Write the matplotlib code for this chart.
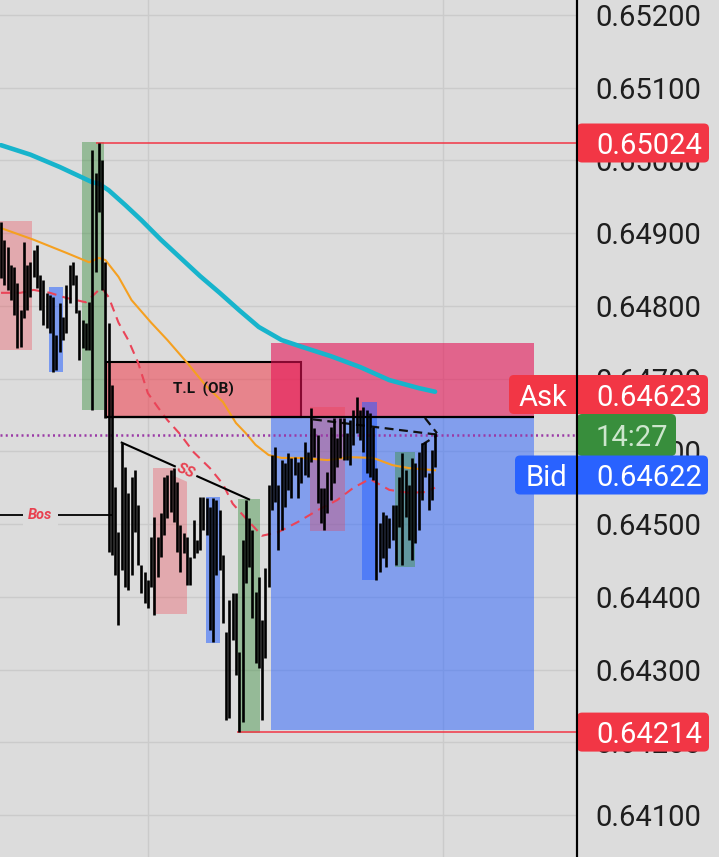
import numpy as np
import matplotlib.pyplot as plt
import matplotlib.patches as patches

plt.rcParams['font.family'] = ['Roboto', 'DejaVu Sans']

# bar highs / lows in pipettes (price * 1e5), one entry per bar
highs = [64915, 64891, 64881, 64856, 64853, 64831, 64794, 64888, 64856, 64860,
         64877, 64884, 64842, 64836, 64818, 64815, 64812, 64760, 64804, 64785,
         64829, 64856, 64860, 64842, 64794, 64781, 64776, 64805, 65014, 64983,
         65024, 65001, 64860, 64776, 64691, 64551, 64489, 64612, 64579, 64543,
         64565, 64574, 64526, 64444, 64434, 64423, 64482, 64510, 64482, 64515,
         64565, 64568, 64574, 64577, 64558, 64499, 64488, 64482, 64455, 64506,
         64478, 64537, 64537, 64536, 64524, 64536, 64533, 64519, 64458, 64352,
         64396, 64405, 64405, 64324, 64478, 64533, 64508, 64492, 64407, 64427,
         64368, 64440, 64554, 64595, 64606, 64554, 64588, 64584, 64598, 64591,
         64592, 64585, 64592, 64613, 64599, 64660, 64632, 64623, 64550, 64550,
         64572, 64634, 64646, 64618, 64646, 64646, 64625, 64643, 64657, 64675,
         64657, 64661, 64657, 64653, 64634, 64577, 64502, 64517, 64513, 64508,
         64526, 64526, 64565, 64598, 64574, 64554, 64591, 64584, 64599, 64612,
         64613, 64570, 64602, 64625]
lows = [64838, 64829, 64822, 64808, 64787, 64742, 64743, 64783, 64794, 64812,
        64840, 64825, 64794, 64774, 64770, 64763, 64709, 64712, 64737, 64753,
        64763, 64804, 64829, 64790, 64726, 64742, 64739, 64739, 64657, 64847,
        64929, 64822, 64646, 64462, 64458, 64430, 64361, 64437, 64414, 64409,
        64430, 64489, 64444, 64405, 64392, 64385, 64414, 64375, 64427, 64455,
        64485, 64508, 64517, 64503, 64462, 64434, 64460, 64416, 64416, 64453,
        64460, 64464, 64492, 64485, 64354, 64338, 64430, 64437, 64364, 64231,
        64233, 64341, 64293, 64214, 64228, 64419, 64441, 64371, 64309, 64302,
        64231, 64316, 64414, 64519, 64530, 64464, 64492, 64524, 64547, 64536,
        64568, 64536, 64557, 64568, 64565, 64585, 64592, 64529, 64502, 64492,
        64515, 64533, 64557, 64579, 64591, 64588, 64588, 64581, 64609, 64625,
        64616, 64599, 64570, 64565, 64561, 64423, 64434, 64453, 64441, 64467,
        64478, 64444, 64496, 64444, 64510, 64478, 64451, 64474, 64492, 64533,
        64565, 64519, 64533, 64579]

# moving averages sampled at bar indices
slow_idx = [0, 9, 18, 28, 30, 33, 38, 43, 49, 55, 61, 67, 73, 79, 86, 92, 101,
            110, 119, 128, 133]
slow_val = [65021, 65008, 64991, 64970, 64968, 64959, 64939, 64918, 64891, 64866,
            64841, 64818, 64794, 64771, 64753, 64744, 64731, 64716, 64698, 64687,
            64682]
mid_idx = [0, 10, 20, 27, 30, 32, 36, 40, 46, 51, 57, 63, 68, 72, 75, 78, 82, 86,
           92, 100, 107, 114, 120, 125, 133]
mid_val = [64907, 64891, 64873, 64860, 64866, 64863, 64840, 64808, 64777, 64753,
           64722, 64689, 64668, 64639, 64625, 64609, 64595, 64591, 64591, 64588,
           64592, 64591, 64581, 64577, 64574]
fast_idx = [0, 6, 10, 15, 20, 26, 30, 31, 33, 36, 39, 42, 45, 48, 51, 55, 59, 64,
            68, 71, 75, 80, 85, 91, 97, 103, 108, 113, 119, 125, 130, 133]
fast_val = [64818, 64818, 64822, 64818, 64811, 64805, 64822, 64824, 64812, 64777,
            64753, 64722, 64680, 64661, 64643, 64623, 64599, 64577, 64555, 64528,
            64508, 64484, 64489, 64503, 64519, 64533, 64550, 64562, 64547, 64543,
            64544, 64550]

# supply / demand zones: bar range, price range, kind
zone_x0 = [-0.3, 14.7, 24.8, 46.6, 62.8, 72.6, 94.7, 110.6, 120.7]
zone_x1 = [9.5, 19.0, 31.6, 57.0, 67.1, 79.4, 105.4, 115.2, 126.9]
zone_lo = [64739, 64709, 64657, 64376, 64336, 64213, 64490, 64423, 64441]
zone_hi = [64917, 64826, 65025, 64577, 64537, 64534, 64661, 64668, 64599]
zone_kind = ['sell', 'buy', 'bull', 'sell', 'buy', 'bull', 'sell', 'buy', 'bull']

ob_x = (32.2, 91.9)
ob_lo, ob_hi = 64647, 64723
trade_x = (82.7, 163.4)
entry, stop, target = 64647, 64749, 64217
bos_level, bos_x = 64512, (-0.3, 34.3)
ss_line = ((37, 64612), (76, 64534))
proj = [((95.6, 64644), (133.7, 64623)), ((129.9, 64646), (133.6, 64625)),
        ((129.0, 64609), (133.6, 64622))]

hi_bar, lo_bar = 30, 73
ask, bid = 0.64623, 0.64622
countdown = '14:27'

P = 1e5
bg = '#dcdcdc'
zone_style = {'sell': ('#f23645', 0.30), 'buy': ('#2962ff', 0.55), 'bull': ('#388e3c', 0.43)}

fig = plt.figure(figsize=(7.19, 8.57), dpi=100, facecolor=bg)
ax = fig.add_axes([0, 0, 577 / 719, 1])
ax.set_facecolor(bg)
ax.set_xlim(-0.31, 176.5)
ax.set_ylim(0.6404225, 0.6522063)

# grid
ax.set_yticks(np.arange(0.641, 0.6525, 0.001))
ax.set_yticklabels(['%.5f' % v for v in np.arange(0.641, 0.6525, 0.001)])
ax.set_xticks([45.05, 135.5])
ax.set_xticklabels([])
ax.grid(True, color='#cbcbcb', lw=1)
ax.set_axisbelow(True)
ax.yaxis.tick_right()
ax.tick_params(axis='y', length=0, pad=13, labelsize=21, labelcolor='#1e1e1e')
ax.tick_params(axis='x', length=0)
for s in ['left', 'top', 'bottom']:
    ax.spines[s].set_visible(False)
ax.spines['right'].set_color('black')
ax.spines['right'].set_linewidth(1.5)

# order block
ax.add_patch(patches.Rectangle((ob_x[0], ob_lo / P), ob_x[1] - ob_x[0], (ob_hi - ob_lo) / P,
                               fc='#f23645', alpha=0.53, lw=0, zorder=1))
ax.add_patch(patches.Rectangle((ob_x[0], ob_lo / P), ob_x[1] - ob_x[0], (ob_hi - ob_lo) / P,
                               fill=False, ec='black', lw=1.5, zorder=1.2))
ax.text(sum(ob_x) / 2, (ob_lo + ob_hi) / 2 / P, 'T.L  (OB)', ha='center', va='center',
        fontsize=11, fontweight='bold', color='#111111', zorder=5)

# position tool
ax.add_patch(patches.Rectangle((trade_x[0], entry / P), trade_x[1] - trade_x[0], (stop - entry) / P,
                               fc='#e61154', alpha=0.59, lw=0, zorder=2))
ax.add_patch(patches.Rectangle((trade_x[0], target / P), trade_x[1] - trade_x[0], (entry - target) / P,
                               fc='#2962ff', alpha=0.5, lw=0, zorder=2))

for x0, x1, lo, hi, k in zip(zone_x0, zone_x1, zone_lo, zone_hi, zone_kind):
    c, a = zone_style[k]
    ax.add_patch(patches.Rectangle((x0, lo / P), x1 - x0, (hi - lo) / P, fc=c, alpha=a, lw=0, zorder=2.5))

ax.hlines(entry / P, ob_x[0], trade_x[1], color='black', lw=1.6, zorder=3.5)

# moving averages
ax.plot(slow_idx, np.array(slow_val) / P, color='#17b4cc', lw=3.3, zorder=3,
        solid_capstyle='round', solid_joinstyle='round')
ax.plot(mid_idx, np.array(mid_val) / P, color='#f5a020', lw=1.5, zorder=3)
ax.plot(fast_idx, np.array(fast_val) / P, color='#ea4458', lw=1.5, ls=(0, (4.5, 3)), zorder=3)

# current price, levels
ax.axhline((ask + bid) / 2, color='#9a3aa6', lw=1.8, ls=(0, (0.8, 1.3)), zorder=3.2)
H = np.array(highs) / P
L = np.array(lows) / P
xr = ax.get_xlim()[1]
ax.hlines(H[hi_bar], hi_bar - 0.8, xr, color='#f23645', lw=1.1, zorder=3)
ax.hlines(L[lo_bar], lo_bar - 0.8, xr, color='#f23645', lw=1.1, zorder=3)

# structure drawings
ax.hlines(bos_level / P, bos_x[0], bos_x[1], color='black', lw=1.3, zorder=3.5)
ax.text(12, bos_level / P, 'Bos', ha='center', va='center', fontsize=10.5, fontweight='bold',
        style='italic', color='#e8404f', zorder=5,
        bbox=dict(fc=bg, ec='none', pad=4))
(sx0, sy0), (sx1, sy1) = ss_line
ax.plot([sx0, sx1], [sy0 / P, sy1 / P], color='black', lw=1.5, zorder=3.5)
ax.text(56.7, 64572.6 / P, 'SS', ha='center', va='center', fontsize=11, fontweight='bold',
        style='italic', color='#e8404f', rotation=-24, zorder=3.6,
        bbox=dict(fc=bg, ec='none', pad=1.5))
for (a0, b0), (a1, b1) in proj:
    ax.plot([a0, a1], [b0 / P, b1 / P], color='#111111', lw=1.6, ls=(0, (4, 2.5)), zorder=3.6)

# bars
ax.vlines(np.arange(len(H)), L, H, color='black', lw=1.9, zorder=4)

# price scale tags
ov = fig.add_axes([0, 0, 1, 1])
ov.set_xlim(0, 719)
ov.set_ylim(0, 857)
ov.axis('off')


def ypix(p):
    return ax.transData.transform((0, p))[1]


def tag(x0, x1, yc, h, color):
    ov.add_patch(patches.FancyBboxPatch((x0, yc - h / 2), x1 - x0, h,
                                        boxstyle='round,pad=0,rounding_size=5',
                                        fc=color, ec='none', zorder=2))


for p in [H[hi_bar], L[lo_bar]]:
    y = ypix(p)
    tag(577, 709, y, 39, '#f23645')
    ov.text(596, y, '%.5f' % p, ha='left', va='center_baseline', fontsize=21, color='white', zorder=3)

yc = ypix((ask + bid) / 2)
tag(577, 676, yc, 42, '#388e3c')
ov.text(596, yc, countdown, ha='left', va='center_baseline', fontsize=21, color='#cde6cd', zorder=3)
ya = yc + 40.5
tag(509, 708, ya, 39, '#f23645')
ov.text(543, ya, 'Ask', ha='center', va='center_baseline', fontsize=21, color='white', zorder=3)
ov.text(596, ya, '%.5f' % ask, ha='left', va='center_baseline', fontsize=21, color='white', zorder=3)
yb = yc - 40
tag(515, 708, yb, 39, '#2962ff')
ov.text(546, yb, 'Bid', ha='center', va='center_baseline', fontsize=21, color='white', zorder=3)
ov.text(596, yb, '%.5f' % bid, ha='left', va='center_baseline', fontsize=21, color='white', zorder=3)
ov.plot([577, 577], [0, 857], color='black', lw=1.5, zorder=4)

fig.savefig('out.png', dpi=100, facecolor=bg)
